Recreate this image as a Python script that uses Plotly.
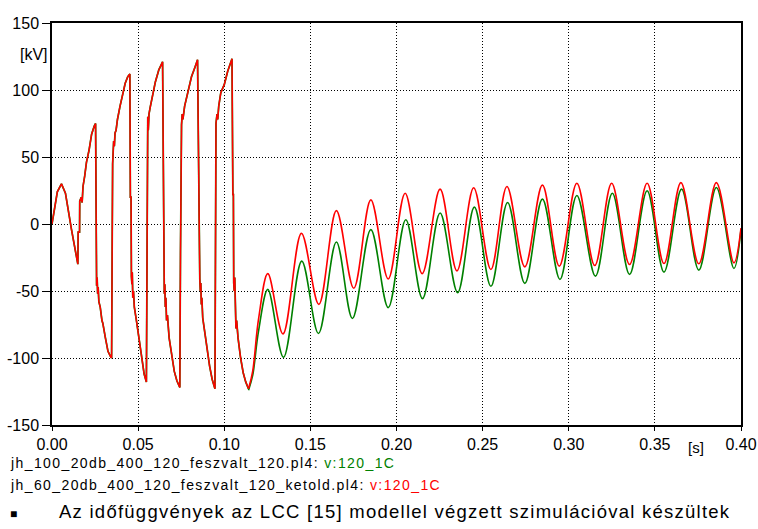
import plotly.graph_objects as go

# ---- data ----
# transient part, common to both curves (they overlap there) : time [s], voltage [kV]
t_trans = [0.0000, 0.0031, 0.0055, 0.0078, 0.0113, 0.0148, 0.0150, 0.0152, 0.0160, 0.0161,
           0.0170, 0.0175, 0.0180, 0.0190, 0.0200, 0.0215, 0.0230, 0.0245, 0.0253,
           0.0259, 0.0262, 0.0265, 0.0268, 0.0272, 0.0280, 0.0290, 0.0295, 0.0310, 0.0325, 0.0340, 0.0346,
           0.0352, 0.0356, 0.0358, 0.0362, 0.0366, 0.0372, 0.0380, 0.0395, 0.0410, 0.0425, 0.0440, 0.0452,
           0.0455, 0.0459, 0.0461, 0.0464, 0.0466, 0.0469, 0.0473, 0.0478, 0.0490, 0.0505, 0.0520, 0.0535, 0.0548,
           0.0552, 0.0556, 0.0559, 0.0563, 0.0570, 0.0585, 0.0600, 0.0620, 0.0635, 0.0642,
           0.0652, 0.0655, 0.0658, 0.0661, 0.0665, 0.0670, 0.0680, 0.0695, 0.0710, 0.0725, 0.0742,
           0.0746, 0.0748, 0.0752, 0.0756, 0.0760, 0.0770, 0.0790, 0.0810, 0.0830, 0.0845,
           0.0858, 0.0861, 0.0864, 0.0867, 0.0870, 0.0875, 0.0885, 0.0900, 0.0915, 0.0930, 0.0946,
           0.0952, 0.0958, 0.0962, 0.0968, 0.0980, 0.1000, 0.1020, 0.1035, 0.1045,
           0.1050, 0.1053, 0.1055, 0.1058, 0.1061, 0.1064, 0.1068, 0.1072, 0.1080, 0.1095, 0.1110, 0.1125, 0.1141]
v_trans = [0, 24, 30, 23, -4, -30, -30, -6, -6, 17,
           20, 16, 28, 36, 46, 55, 67, 73, 75,
           -46, -40, -52, -47, -58, -62, -72, -74, -85, -95, -99, -100,
           45, 53, 62, 58, 68, 70, 78, 88, 97, 105, 110, 112,
           20, 20, -39, -45, -36, -55, -50, -62, -72, -86, -100, -112, -118,
           72, 80, 70, 82, 87, 98, 106, 115, 119, 121,
           -52, -45, -62, -55, -72, -68, -85, -98, -110, -117, -122,
           -20, 70, 74, 82, 78, 88, 100, 110, 117, 122.5,
           -41, -50, -44, -60, -55, -70, -80, -92, -106, -116, -123,
           75, 82, 78, 88, 98, 104, 114, 120, 123.3,
           22, 22, -44, -50, -40, -70, -78, -72, -85, -100, -111, -118, -123]

# oscillating part, v:120_1C of jh_60..._ketold.pl4 (red)
t_red = [0.1141, 0.1165, 0.1199, 0.1253, 0.1341, 0.1448, 0.1549, 0.1651, 0.1752, 0.1851,
         0.1952, 0.2050, 0.2149, 0.2253, 0.2351, 0.2448, 0.2548, 0.2641, 0.2745, 0.2847,
         0.2945, 0.3047, 0.3151, 0.3249, 0.3353, 0.3455, 0.3553, 0.3651, 0.3755, 0.3857,
         0.3959, 0.4000]
v_red = [-123, -110, -71, -37, -82, -7, -60, 10, -48, 18,
         -41, 23, -37, 26, -35, 27, -34, 28, -32, 29,
         -31.4, 30.4, -31, 30.4, -30.2, 30.4, -29.5, 30.9, -29.7, 30.9,
         -29, -3]

# oscillating part, v:120_1C of jh_100..._feszvalt_120.pl4 (green)
t_green = [0.1141, 0.1165, 0.1199, 0.1253, 0.1344, 0.1450, 0.1547, 0.1651, 0.1744, 0.1851,
           0.1952, 0.2054, 0.2151, 0.2253, 0.2355, 0.2452, 0.2548, 0.2645, 0.2745, 0.2847,
           0.2949, 0.3047, 0.3155, 0.3253, 0.3353, 0.3455, 0.3553, 0.3655, 0.3755, 0.3857,
           0.3959, 0.4000]
v_green = [-124, -113, -80, -48.8, -99.5, -27.7, -81.7, -13.4, -70.5, -4.2,
           -62.4, 3.2, -55.7, 8.2, -51.2, 12.6, -46.5, 16.1, -44.3, 18.6,
           -41.3, 21.3, -38.9, 23.0, -37.6, 24.8, -35.9, 26.0, -34.4, 27.2,
           -33.2, -4]

x_ticks = [0.00, 0.05, 0.10, 0.15, 0.20, 0.25, 0.30, 0.35, 0.40]
x_tick_labels = ["0.00", "0.05", "0.10", "0.15", "0.20", "0.25", "0.30", "0.35", "0.40"]
y_ticks = [-150, -100, -50, 0, 50, 100, 150]
y_tick_labels = ["-150", "-100", "-50", "0", "50", "100", "150"]

file_green = "jh_100_20db_400_120_feszvalt_120.pl4: "
file_red = "jh_60_20db_400_120_feszvalt_120_ketold.pl4: "
var_name = "v:120_1C"
caption = "Az időfüggvények az LCC [15] modellel végzett szimulációval készültek"

GREEN = "#008000"
RED = "#ff0000"
FONT = "Liberation Sans, Arial, sans-serif"

fig = go.Figure()
fig.add_trace(go.Scatter(x=t_trans, y=v_trans, mode="lines",
                         line=dict(color=GREEN, width=1.7), showlegend=False))
fig.add_trace(go.Scatter(x=t_green, y=v_green, mode="lines",
                         line=dict(color=GREEN, width=1.6, shape="spline", smoothing=1.0), showlegend=False))
fig.add_trace(go.Scatter(x=t_trans, y=v_trans, mode="lines",
                         line=dict(color=RED, width=1.5), showlegend=False))
fig.add_trace(go.Scatter(x=t_red, y=v_red, mode="lines",
                         line=dict(color=RED, width=1.6, shape="spline", smoothing=1.0), showlegend=False))

axis_common = dict(showline=True, linecolor="black", linewidth=1.5, mirror=True,
                   showgrid=True, gridcolor="black", gridwidth=1, griddash="1px,2px",
                   zeroline=False, ticks="outside", tickcolor="black", automargin=False,
                   tickfont=dict(family=FONT, size=16, color="black"))

fig.update_xaxes(range=[0, 0.40], tickvals=x_ticks, ticktext=x_tick_labels, ticklen=4, **axis_common)
fig.update_yaxes(range=[-150, 150], tickvals=y_ticks, ticktext=y_tick_labels, ticklen=8, **axis_common)

W, H = 758, 529
L, R, T, B = 52, 17, 23, 104
pw, ph = W - L - R, H - T - B


def px(x):
    return (x - L) / pw


def py(y):
    return (H - B - y) / ph


SP = "letter-spacing:1.4px;"
annotations = [
    dict(text="[kV]", x=px(34), y=py(54), xanchor="center", yanchor="middle",
         font=dict(family=FONT, size=16, color="black")),
    dict(text="[s]", x=px(696), y=py(447), xanchor="center", yanchor="middle",
         font=dict(family=FONT, size=15, color="black")),
    dict(text=f"<span style='{SP}'>{file_green}</span><span style='{SP}color:{GREEN}'>{var_name}</span>",
         x=px(8), y=py(463), xanchor="left", yanchor="middle",
         font=dict(family=FONT, size=14, color="black")),
    dict(text=f"<span style='{SP}'>{file_red}</span><span style='{SP}color:{RED}'>{var_name}</span>",
         x=px(8), y=py(485), xanchor="left", yanchor="middle",
         font=dict(family=FONT, size=14, color="black")),
    dict(text="■", x=px(13), y=py(514), xanchor="center", yanchor="middle",
         font=dict(family=FONT, size=12, color="black")),
    dict(text=f"<span style='letter-spacing:1.25px;'>{caption}</span>", x=px(57), y=py(511),
         xanchor="left", yanchor="middle", font=dict(family=FONT, size=18.5, color="black")),
]
for a in annotations:
    a.update(xref="paper", yref="paper", showarrow=False)

fig.update_layout(width=W, height=H, margin=dict(l=L, r=R, t=T, b=B, autoexpand=False),
                  paper_bgcolor="white", plot_bgcolor="white",
                  annotations=annotations, showlegend=False)

fig.write_html("out.html", config={"displayModeBar": False},
               post_script="document.body.style.margin='0';document.body.style.overflow='hidden';")
